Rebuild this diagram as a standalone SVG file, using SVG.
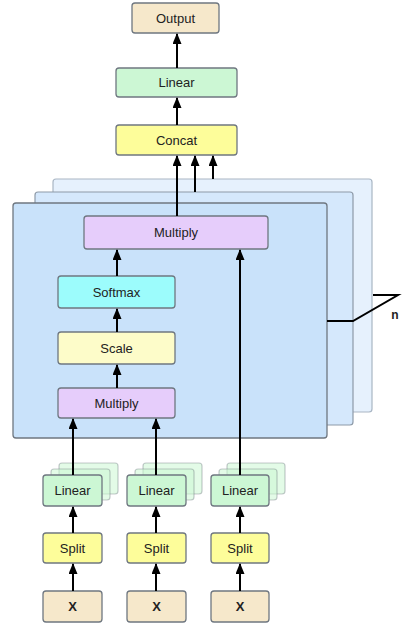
<svg xmlns="http://www.w3.org/2000/svg" width="402" height="626" viewBox="0 0 402 626">
<style>
.n{stroke:#6f7780;stroke-width:1.3}
.t{font-family:"Liberation Sans",Arial,sans-serif;font-size:13px;fill:#222;text-anchor:middle;dominant-baseline:central}
.b{font-weight:bold}
.beige{fill:#f6e8cb}
.green{fill:#ccf7d4}
.yellow{fill:#fdfd9a}
.lyellow{fill:#fdfcc9}
.purple{fill:#e6cdfb}
.cyan{fill:#9cfcfc}
.ghost{fill:#ccf7d4;fill-opacity:0.55;stroke:#6f7780;stroke-opacity:0.4;stroke-width:1.2}
.c{stroke:#000;stroke-width:2;fill:none}
</style>
<defs>
<marker id="ah" markerWidth="11" markerHeight="10" refX="10" refY="4.5" orient="auto" markerUnits="userSpaceOnUse">
<path d="M0,0 L11,4.5 L0,9 z" fill="#000"/>
</marker>
</defs>
<rect width="402" height="626" fill="#fff"/>

<g id="layer3"><rect x="53" y="179" width="319" height="233" rx="3" fill="#e6f1fd" stroke="#a9b6c4" stroke-width="1.2"/></g>
<g id="layer2"><rect x="35" y="192" width="318" height="233" rx="3" fill="#d5e8fc" stroke="#8e9aa8" stroke-width="1.2"/></g>
<g id="layer1"><rect x="13" y="203" width="314" height="235" rx="3" fill="#c9e2fa" stroke="#6f7780" stroke-width="1.3"/></g>

<g id="output"><rect class="n beige" x="132" y="3" width="87" height="30" rx="3"/><text class="t" x="175.5" y="18">Output</text></g>
<g id="linear_top"><rect class="n green" x="116" y="68" width="121" height="29" rx="3"/><text class="t" x="176.5" y="82.5">Linear</text></g>
<g id="concat"><rect class="n yellow" x="116" y="125" width="121" height="30" rx="3"/><text class="t" x="176.5" y="140">Concat</text></g>
<g id="multiply_top"><rect class="n purple" x="84" y="216" width="184" height="33" rx="3"/><text class="t" x="176" y="232.5">Multiply</text></g>
<g id="softmax"><rect class="n cyan" x="58" y="276" width="117" height="32" rx="3"/><text class="t" x="116.5" y="292">Softmax</text></g>
<g id="scale"><rect class="n lyellow" x="58" y="332" width="117" height="32" rx="3"/><text class="t" x="116.5" y="348">Scale</text></g>
<g id="multiply_bottom"><rect class="n purple" x="58" y="388" width="117" height="30" rx="3"/><text class="t" x="116.5" y="403">Multiply</text></g>

<g id="linear1">
<rect class="ghost" x="59" y="463" width="59" height="31" rx="3"/>
<rect class="ghost" x="51" y="469" width="59" height="31" rx="3"/>
<rect class="n green" x="43" y="475" width="59" height="31" rx="3"/><text class="t" x="72.5" y="490.5">Linear</text></g>
<g id="linear2">
<rect class="ghost" x="143" y="463" width="59" height="31" rx="3"/>
<rect class="ghost" x="135" y="469" width="59" height="31" rx="3"/>
<rect class="n green" x="127" y="475" width="59" height="31" rx="3"/><text class="t" x="156.5" y="490.5">Linear</text></g>
<g id="linear3">
<rect class="ghost" x="227" y="463" width="58" height="31" rx="3"/>
<rect class="ghost" x="219" y="469" width="58" height="31" rx="3"/>
<rect class="n green" x="211" y="475" width="58" height="31" rx="3"/><text class="t" x="240" y="490.5">Linear</text></g>

<g id="split1"><rect class="n yellow" x="43" y="533" width="59" height="30" rx="3"/><text class="t" x="72.5" y="548">Split</text></g>
<g id="split2"><rect class="n yellow" x="127" y="533" width="59" height="30" rx="3"/><text class="t" x="156.5" y="548">Split</text></g>
<g id="split3"><rect class="n yellow" x="211" y="533" width="58" height="30" rx="3"/><text class="t" x="240" y="548">Split</text></g>

<g id="x1"><rect class="n beige" x="43" y="591" width="59" height="31" rx="3"/><text class="t b" x="72.5" y="606.5">X</text></g>
<g id="x2"><rect class="n beige" x="127" y="591" width="59" height="31" rx="3"/><text class="t b" x="156.5" y="606.5">X</text></g>
<g id="x3"><rect class="n beige" x="211" y="591" width="58" height="31" rx="3"/><text class="t b" x="240" y="606.5">X</text></g>

<g id="n_label">
<polyline points="327,321 353,321 398,295 373,295" fill="none" stroke="#000" stroke-width="2"/>
<text class="t b" x="395" y="315" style="font-size:12px">n</text>
</g>

<g id="connectors">
<line class="c" x1="177" y1="68" x2="177" y2="34" marker-end="url(#ah)"/>
<line class="c" x1="177" y1="125" x2="177" y2="98" marker-end="url(#ah)"/>
<line class="c" x1="177" y1="216" x2="177" y2="156" marker-end="url(#ah)"/>
<line class="c" x1="195" y1="192" x2="195" y2="156" marker-end="url(#ah)"/>
<line class="c" x1="213" y1="179" x2="213" y2="156" marker-end="url(#ah)"/>
<line class="c" x1="117" y1="276" x2="117" y2="250" marker-end="url(#ah)"/>
<line class="c" x1="117" y1="332" x2="117" y2="309" marker-end="url(#ah)"/>
<line class="c" x1="117" y1="388" x2="117" y2="365" marker-end="url(#ah)"/>
<line class="c" x1="73" y1="475" x2="73" y2="419" marker-end="url(#ah)"/>
<line class="c" x1="156" y1="475" x2="156" y2="419" marker-end="url(#ah)"/>
<line class="c" x1="240" y1="475" x2="240" y2="250" marker-end="url(#ah)"/>
<line class="c" x1="73" y1="533" x2="73" y2="507" marker-end="url(#ah)"/>
<line class="c" x1="156" y1="533" x2="156" y2="507" marker-end="url(#ah)"/>
<line class="c" x1="240" y1="533" x2="240" y2="507" marker-end="url(#ah)"/>
<line class="c" x1="73" y1="591" x2="73" y2="564" marker-end="url(#ah)"/>
<line class="c" x1="156" y1="591" x2="156" y2="564" marker-end="url(#ah)"/>
<line class="c" x1="240" y1="591" x2="240" y2="564" marker-end="url(#ah)"/>
</g>
</svg>
